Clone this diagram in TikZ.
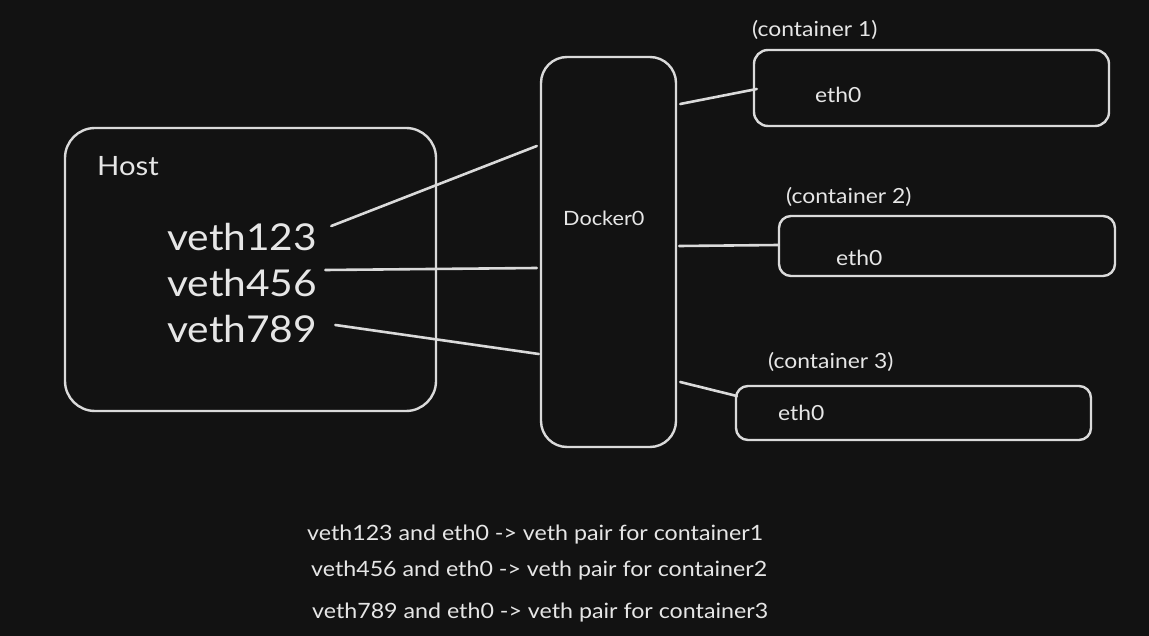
\documentclass[tikz,border=0pt]{standalone}
\usepackage{fontspec}
\setmainfont[FakeStretch=1.1]{Lato}
\definecolor{bg}{HTML}{121212}
\definecolor{ink}{HTML}{DADADA}
\definecolor{txt}{HTML}{E6E6E6}
\begin{document}
\begin{tikzpicture}[x=1pt,y=-1pt,
  box/.style={draw=ink,line width=2.4pt,rectangle,inner sep=0pt},
  lbl/.style={text=txt,inner sep=0pt,anchor=west},
  wire/.style={draw=ink,line width=2.6pt,line cap=round}]
\fill[bg] (0,0) rectangle (1149,636);
\useasboundingbox (0,0) rectangle (1149,636);
% boxes
\node[box,rounded corners=30pt,minimum width=371pt,minimum height=283pt] (host) at (250.5,269.5) {};
\node[box,rounded corners=26pt,minimum width=135pt,minimum height=390pt] (docker) at (608.5,252) {};
\node[box,rounded corners=14pt,minimum width=355pt,minimum height=76pt] (c1) at (931.5,88) {};
\node[box,rounded corners=12pt,minimum width=336pt,minimum height=60pt] (c2) at (947,246) {};
\node[box,rounded corners=12pt,minimum width=355pt,minimum height=54pt] (c3) at (913.5,413) {};
% texts
\node[lbl,font=\fontsize{26.6}{28}\selectfont] (hostl) at (97,166) {Host};
\node[lbl,font=\fontsize{37}{40}\selectfont] (v1) at (167,237) {veth123};
\node[lbl,font=\fontsize{37}{40}\selectfont] (v2) at (167,283) {veth456};
\node[lbl,font=\fontsize{37}{40}\selectfont] (v3) at (167,329) {veth789};
\node[lbl,font=\fontsize{19.7}{22}\selectfont] (dl) at (563,218) {Docker0};
\node[lbl,font=\fontsize{20.8}{22}\selectfont] (cl1) at (752,30) {(container 1)};
\node[lbl,font=\fontsize{20.8}{22}\selectfont] (cl2) at (786,197) {(container 2)};
\node[lbl,font=\fontsize{20.8}{22}\selectfont] (cl3) at (768,362) {(container 3)};
\node[lbl,font=\fontsize{20.8}{22}\selectfont] (e1) at (815,95) {eth0};
\node[lbl,font=\fontsize{20.8}{22}\selectfont] (e2) at (836,258) {eth0};
\node[lbl,font=\fontsize{20.8}{22}\selectfont] (e3) at (778,413) {eth0};
\node[lbl,font=\fontsize{21.1}{24}\selectfont] (n1) at (307,535) {veth123 and eth0 -> veth pair for container1};
\node[lbl,font=\fontsize{21.1}{24}\selectfont] (n2) at (311,571) {veth456 and eth0 -> veth pair for container2};
\node[lbl,font=\fontsize{21.1}{24}\selectfont] (n3) at (312,613) {veth789 and eth0 -> veth pair for container3};
% wires
\draw[wire] ([xshift=14pt,yshift=11pt]v1.east) -- ([xshift=-3pt,yshift=106pt]docker.west);
\draw[wire] ([xshift=8pt,yshift=13pt]v2.east) -- ([xshift=-3pt,yshift=-16pt]docker.west);
\draw[wire] ([xshift=18pt,yshift=4pt]v3.east) -- ([xshift=-1pt,yshift=-102pt]docker.west);
\draw[wire] ([xshift=3pt,yshift=148pt]docker.east) -- ([xshift=4pt,yshift=-1pt]c1.west);
\draw[wire] ([xshift=2pt,yshift=6pt]docker.east) -- ([xshift=1pt,yshift=1pt]c2.west);
\draw[wire] ([xshift=3pt,yshift=-130pt]docker.east) -- ([xshift=2pt,yshift=17pt]c3.west);
\end{tikzpicture}
\end{document}
